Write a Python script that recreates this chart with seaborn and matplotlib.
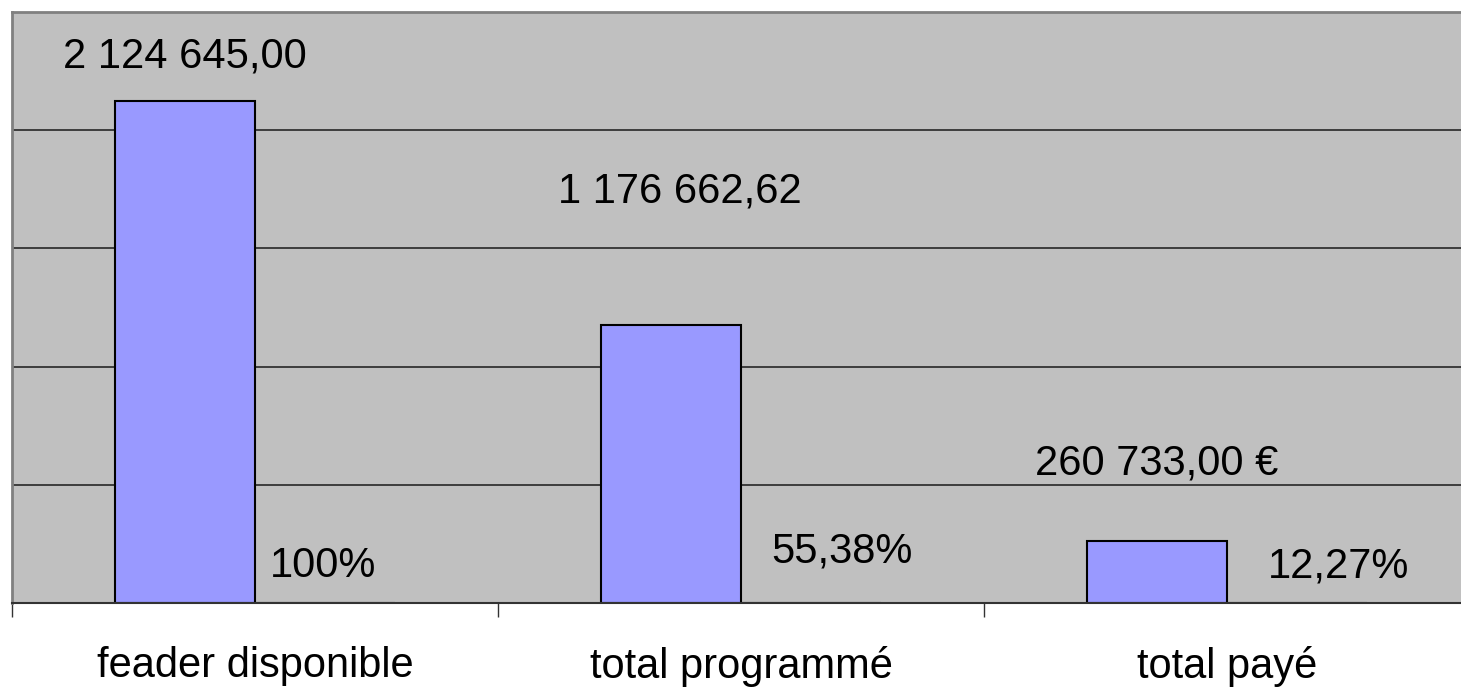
import pandas as pd
import seaborn as sns
import matplotlib.pyplot as plt
import matplotlib.ticker as mticker

# --- DONNEES ---
CATEGORIES = ["feader disponible", "total programmé", "total payé"]
MONTANTS = [2124645.00, 1176662.62, 260733.00]
POURCENTAGES = [1.0, 0.5538, 0.1227]

LABELS_MONTANTS = ["2 124 645,00", "1 176 662,62", "260 733,00 €"]
LABELS_POURCENTAGES = ["100%", "55,38%", "12,27%"]

# decalage des etiquettes (pixels) par rapport au haut de la barre
DECALAGE_MONTANTS = [(0, 33), (9, 122), (0, 67)]
DECALAGE_POURCENTAGES = [(-2, 26), (31, 40), (42, 25)]

COULEUR_BARRE = "#9999FF"
COULEUR_FOND = "#C0C0C0"


def creer_graphique(nom_fichier):
    df = pd.DataFrame({
        "categorie": CATEGORIES * 2,
        "valeur": MONTANTS + POURCENTAGES,
        "serie": ["montant"] * 3 + ["pourcentage"] * 3,
    })

    sns.set_style("white")
    plt.rcParams['font.family'] = ['Liberation Sans', 'DejaVu Sans']

    fig = plt.figure(figsize=(14.61, 6.88), dpi=100)
    # zone de trace : x 12 -> ~1470 px, y 12 -> 603 px
    ax = fig.add_axes([12 / 1461, 85 / 688, 1458 / 1461, 591 / 688])
    ax.set_facecolor(COULEUR_FOND)

    sns.barplot(data=df, x="categorie", y="valeur", hue="serie",
                palette=[COULEUR_BARRE, COULEUR_BARRE], saturation=1, width=0.576,
                edgecolor="black", linewidth=1.5, legend=False, ax=ax)

    ax.set_xlim(-0.5, 2.5)
    ax.set_ylim(0, 2500000)
    ax.yaxis.set_major_locator(mticker.MultipleLocator(500000))
    ax.yaxis.grid(True, color="#333333", linewidth=1.3)
    ax.set_axisbelow(True)
    ax.set_yticklabels([])
    ax.tick_params(axis="y", length=0)

    ax.set_xlabel("")
    ax.set_ylabel("")
    ax.xaxis.set_minor_locator(mticker.FixedLocator([-0.5, 0.5, 1.5]))
    ax.tick_params(axis="x", which="major", length=0, pad=31, labelsize=30,
                   labelcolor="black")
    ax.tick_params(axis="x", which="minor", length=10, width=1, color="#333333",
                   direction="out", bottom=True)

    for cote in ["top", "left"]:
        ax.spines[cote].set_color("#808080")
        ax.spines[cote].set_linewidth(2)
    ax.spines["right"].set_visible(False)
    ax.spines["bottom"].set_color("#333333")
    ax.spines["bottom"].set_linewidth(1.5)

    conteneurs = ax.containers
    for barre, texte, dec in zip(conteneurs[0], LABELS_MONTANTS, DECALAGE_MONTANTS):
        ax.annotate(texte, (barre.get_x() + barre.get_width() / 2, barre.get_height()),
                    xytext=dec, textcoords="offset pixels",
                    ha="center", va="baseline", fontsize=30, color="black")
    for barre, texte, dec in zip(conteneurs[1], LABELS_POURCENTAGES, DECALAGE_POURCENTAGES):
        ax.annotate(texte, (barre.get_x() + barre.get_width() / 2, barre.get_height()),
                    xytext=dec, textcoords="offset pixels",
                    ha="center", va="baseline", fontsize=30, color="black")

    plt.savefig(nom_fichier, dpi=100)
    plt.close()


if __name__ == '__main__':
    creer_graphique("out.png")
